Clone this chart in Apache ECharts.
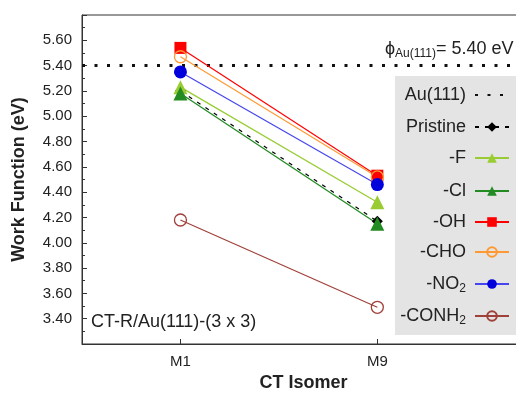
<!DOCTYPE html>
<html><head><meta charset="utf-8">
<script src="https://cdn.jsdelivr.net/npm/echarts@6/dist/echarts.min.js"></script>
<style>html,body{margin:0;padding:0;background:#fff}#c{width:516px;height:395px}</style>
</head><body><div id="c"></div>
<script>
// Data
var categories = ['M1', 'M9'];
var auRef = 5.40;
var pristine = [5.20, 4.17];
var fluoro = [5.23, 4.32];
var chloro = [5.18, 4.15];
var hydroxy = [5.54, 4.53];
var formyl = [5.47, 4.52];
var nitro = [5.35, 4.46];
var amide = [4.18, 3.49];
var yTicks = [3.40, 3.60, 3.80, 4.00, 4.20, 4.40, 4.60, 4.80, 5.00, 5.20, 5.40, 5.60];

var xMin = 0.5, xMax = 2.75;
var FONT = 'Liberation Sans, Arial, sans-serif';
function pts(arr) { return arr.map(function (v, i) { return [i + 1, v]; }); }

var seriesDefs = [
  {name: 'Au(111)', data: [[xMin, auRef], [xMax, auRef]], color: '#111', symbol: 'none', size: 0, lw: 3, type: [3, 9.5]},
  {name: 'Pristine', data: pts(pristine), color: '#000', symbol: 'diamond', size: 11, lw: 1.2, type: [4, 6]},
  {name: '-F', data: pts(fluoro), color: '#99cc33', symbol: 'triangle', size: 14, lw: 1.3, type: 'solid'},
  {name: '-Cl', data: pts(chloro), color: '#228b22', symbol: 'triangle', size: 14, lw: 1.3, type: 'solid'},
  {name: '-OH', data: pts(hydroxy), color: '#ff0000', symbol: 'rect', size: 12, lw: 1.2, type: 'solid'},
  {name: '-CHO', data: pts(formyl), color: '#ff9933', symbol: 'circle', size: 12, lw: 1.2, type: 'solid', hollow: true},
  {name: '-NO2', data: pts(nitro), color: '#0000dd', lineColor: '#4646ee', symbol: 'circle', size: 13, lw: 1.2, type: 'solid'},
  {name: '-CONH2', data: pts(amide), color: '#a0403a', symbol: 'circle', size: 12, lw: 1.2, type: 'solid', hollow: true}
];

var series = seriesDefs.map(function (d) {
  return {
    name: d.name, type: 'line', data: d.data,
    symbol: d.symbol, symbolSize: d.size, showSymbol: d.symbol !== 'none',
    itemStyle: d.hollow ? {color: 'rgba(255,255,255,0)', borderColor: d.color, borderWidth: 1.3}
                        : {color: d.color, borderWidth: 0},
    lineStyle: {color: d.lineColor || d.color, width: d.lw, type: d.type},
    emphasis: {disabled: true}, silent: true, animation: false
  };
});

var legendCenters = [94, 126, 157, 190, 221, 251, 283, 315];
var legends = seriesDefs.map(function (d, i) {
  var item = d.symbol === 'none' ? {name: d.name, itemStyle: {opacity: 0}} : {name: d.name};
  return {
    data: [item], orient: 'vertical', right: 6, top: legendCenters[i] - 8,
    align: 'right', itemWidth: 34, itemHeight: 12, padding: 0, selectedMode: false,
    formatter: function (n) {
      if (n === '-NO2') return '-NO{sub|2}';
      if (n === '-CONH2') return '-CONH{sub|2}';
      return n;
    },
    textStyle: {fontSize: 18, color: '#222', fontFamily: FONT, padding: [0, 4, 0, 0],
      rich: {sub: {fontSize: 12, color: '#222', fontFamily: FONT, padding: [10, 0, 0, 0]}}}
  };
});

var chart = echarts.init(document.getElementById('c'), null, {renderer: 'canvas'});
chart.setOption({
  animation: false,
  backgroundColor: '#fff',
  grid: {left: 82, top: 15, width: 443, height: 329, outerBoundsMode: 'none', containLabel: false,
    show: true, borderColor: '#333', borderWidth: 1, backgroundColor: 'transparent'},
  xAxis: {
    type: 'value', min: xMin, max: xMax,
    name: 'CT Isomer', nameLocation: 'middle', nameGap: 29,
    nameTextStyle: {fontSize: 18, fontWeight: 'bold', color: '#222', fontFamily: FONT},
    axisLine: {lineStyle: {color: '#333', width: 1}},
    axisTick: {inside: true, length: 5, customValues: [1, 2], lineStyle: {color: '#333'}},
    axisLabel: {customValues: [1, 2], fontSize: 15, color: '#222', fontFamily: FONT, margin: 10,
      formatter: function (v) { return categories[Math.round(v) - 1]; }},
    splitLine: {show: false}
  },
  yAxis: {
    type: 'value', min: 3.2, max: 5.8, interval: 0.2,
    name: 'Work Function (eV)', nameLocation: 'middle', nameGap: 54,
    nameTextStyle: {fontSize: 18, fontWeight: 'bold', color: '#222', fontFamily: FONT},
    axisLine: {show: true, lineStyle: {color: '#333', width: 1}},
    axisTick: {inside: true, length: 5, lineStyle: {color: '#333'}},
    minorTick: {show: true, splitNumber: 2, length: 3, lineStyle: {color: '#333'}},
    axisLabel: {fontSize: 15, color: '#222', fontFamily: FONT, margin: 10, showMinLabel: false, showMaxLabel: false,
      formatter: function (v) { return v.toFixed(2); }},
    splitLine: {show: false}
  },
  legend: legends,
  graphic: [
    {type: 'rect', shape: {x: 395, y: 76, width: 130, height: 259}, style: {fill: '#e4e4e4'}, z: 0, silent: true},
    {type: 'text', x: 385, y: 49, style: {
      text: '{phi|ϕ}{sub|Au(111)}{main|= 5.40 eV}', verticalAlign: 'middle',
      rich: {
        phi: {fontSize: 18, fontFamily: FONT, fill: '#222'},
        sub: {fontSize: 12, fontFamily: FONT, fill: '#222', padding: [10, 0, 0, 0]},
        main: {fontSize: 18, fontFamily: FONT, fill: '#222'}
      }}, z: 10, silent: true},
    {type: 'text', x: 91, y: 322, style: {text: 'CT-R/Au(111)-(3 x 3)', fontSize: 18, fontFamily: FONT, fill: '#222', verticalAlign: 'middle'}, z: 10, silent: true}
  ],
  series: series
});
</script></body></html>
